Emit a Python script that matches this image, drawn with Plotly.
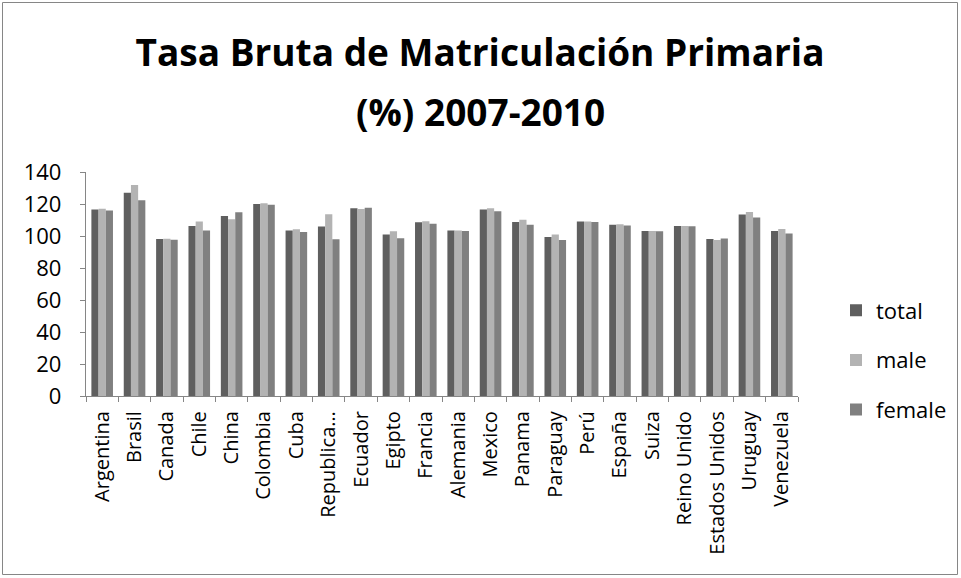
import plotly.graph_objects as go

countries = ["Argentina", "Brasil", "Canada", "Chile", "China", "Colombia", "Cuba",
             "Republica…", "Ecuador", "Egipto", "Francia", "Alemania", "Mexico",
             "Panama", "Paraguay", "Perú", "España", "Suiza", "Reino Unido",
             "Estados Unidos", "Uruguay", "Venezuela"]
total = [116.5, 127.1, 98.1, 106.3, 112.5, 120.0, 103.4, 105.9, 117.3, 100.9, 108.6,
         103.4, 116.5, 108.8, 99.4, 109.0, 107.1, 103.1, 106.3, 98.1, 113.4, 103.1]
male = [117.1, 131.9, 98.3, 109.0, 110.4, 120.4, 104.2, 113.6, 116.9, 102.9, 109.2,
        103.4, 117.3, 110.2, 100.9, 109.0, 107.3, 103.1, 106.3, 97.5, 115.0, 104.4]
female = [115.9, 122.3, 97.7, 103.4, 114.8, 119.6, 102.5, 97.9, 117.7, 98.6, 107.7,
          103.1, 115.4, 107.1, 97.5, 108.8, 106.5, 103.0, 106.1, 98.4, 111.5, 101.5]

title_line1 = "Tasa Bruta de Matriculación Primaria"
title_line2 = "(%) 2007-2010"

series = [("total", total, "#5f5f5f"), ("male", male, "#b3b3b3"), ("female", female, "#808080")]

fig = go.Figure()
for i, (name, vals, col) in enumerate(series):
    fig.add_trace(go.Bar(x=countries, y=vals, name=name, marker_color=col,
                         marker_line_width=0, legendgroup=str(i)))

W, H = 961, 578
ml, mr, mt, mb = 86, 163, 172, 182
pw, ph = W - ml - mr, H - mt - mb

fig.update_layout(
    width=W, height=H,
    margin=dict(l=ml, r=mr, t=mt, b=mb, pad=0, autoexpand=False),
    paper_bgcolor="white", plot_bgcolor="white",
    barmode="group", bargap=0.333, bargroupgap=0,
    font=dict(family="Open Sans, Liberation Sans, sans-serif", color="black"),
    title=dict(text="<b>" + title_line1 + "</b>",
               x=480 / W, xanchor="center", xref="container",
               y=1 - 53 / H, yanchor="middle", yref="container",
               font=dict(size=37, color="black")),
    legend=dict(x=(836 - ml) / pw, xanchor="left", y=(396 - 360) / ph, yanchor="middle",
                font=dict(size=22), tracegroupgap=18, itemwidth=30,
                bgcolor="rgba(0,0,0,0)"),
    showlegend=True,
)
fig.add_annotation(text="<b>" + title_line2 + "</b>", xref="paper", yref="paper",
                   x=(480 - ml) / pw, y=(396 - 111) / ph, xanchor="center",
                   yanchor="middle", showarrow=False, font=dict(size=37, color="black"))

fig.update_xaxes(showline=True, linecolor="#868686", linewidth=1.3,
                 ticks="outside", ticklen=5, tickcolor="#868686", tickson="boundaries",
                 tickangle=-90, tickfont=dict(size=20), showgrid=False,
                 ticklabelstandoff=6)
fig.update_yaxes(range=[0, 140], dtick=20, showline=True, linecolor="#868686",
                 linewidth=1.3, ticks="outside", ticklen=5, tickcolor="#868686",
                 tickfont=dict(size=22), showgrid=False, zeroline=False,
                 ticklabelstandoff=14)

# outer chart border
fig.add_shape(type="rect", xref="paper", yref="paper",
              x0=(2.5 - ml) / pw, x1=(W - 3.5 - ml) / pw,
              y0=-(mb - 3.5) / ph, y1=1 + (mt - 2.5) / ph,
              line=dict(color="#868686", width=1), layer="below")

fig.write_html("out.html", config={"displayModeBar": False},
               post_script="document.body.style.margin='0';"
               "document.body.style.overflow='hidden';")
